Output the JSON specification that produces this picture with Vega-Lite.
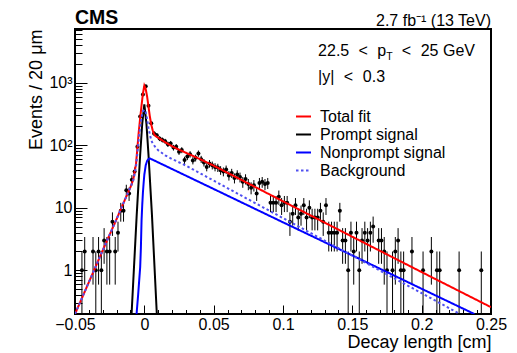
{
  "$schema": "https://vega.github.io/schema/vega-lite/v6.json",
  "width": 416,
  "height": 285,
  "autosize": {"type": "none"},
  "padding": {"left": 75, "top": 29, "right": 26, "bottom": 39},
  "config": {
    "font": "Liberation Sans",
    "view": {"stroke": "black", "strokeWidth": 2},
    "legend": {"labelFont": "Liberation Sans", "labelFontSize": 16, "labelColor": "black", "symbolType": "stroke", "symbolSize": 225, "symbolStrokeWidth": 2, "rowPadding": 1, "labelOffset": 8, "padding": 0}
  },
  "resolve": {"axis": {"x": "independent"}},
  "datasets": {
    "points": [
      {"x": -0.045, "n": 1, "lo": 0.01, "hi": 2},
      {"x": -0.043, "n": 2, "lo": 0.59, "hi": 3.41},
      {"x": -0.037, "n": 2, "lo": 0.59, "hi": 3.41},
      {"x": -0.035, "n": 1, "lo": 0.01, "hi": 2},
      {"x": -0.033, "n": 2, "lo": 0.59, "hi": 3.41},
      {"x": -0.031, "n": 1, "lo": 0.01, "hi": 2},
      {"x": -0.029, "n": 3, "lo": 1.27, "hi": 4.73},
      {"x": -0.027, "n": 2, "lo": 0.59, "hi": 3.41},
      {"x": -0.025, "n": 2, "lo": 0.59, "hi": 3.41},
      {"x": -0.023, "n": 6, "lo": 3.55, "hi": 8.45},
      {"x": -0.021, "n": 2, "lo": 0.59, "hi": 3.41},
      {"x": -0.019, "n": 4, "lo": 2, "hi": 6},
      {"x": -0.017, "n": 9, "lo": 6, "hi": 12},
      {"x": -0.015, "n": 9, "lo": 6, "hi": 12},
      {"x": -0.013, "n": 19, "lo": 14.64, "hi": 23.36},
      {"x": -0.011, "n": 17, "lo": 12.88, "hi": 21.12},
      {"x": -0.009, "n": 28, "lo": 22.71, "hi": 33.29},
      {"x": -0.007, "n": 38, "lo": 31.84, "hi": 44.16},
      {"x": -0.005, "n": 95, "lo": 85.25, "hi": 104.75},
      {"x": -0.003, "n": 290, "lo": 272.97, "hi": 307.03},
      {"x": -0.001, "n": 650, "lo": 624.5, "hi": 675.5},
      {"x": 0.001, "n": 880, "lo": 850.34, "hi": 909.66},
      {"x": 0.003, "n": 430, "lo": 409.26, "hi": 450.74},
      {"x": 0.005, "n": 225, "lo": 210, "hi": 240},
      {"x": 0.007, "n": 155, "lo": 142.55, "hi": 167.45},
      {"x": 0.009, "n": 145, "lo": 132.96, "hi": 157.04},
      {"x": 0.011, "n": 128, "lo": 116.69, "hi": 139.31},
      {"x": 0.013, "n": 122, "lo": 110.95, "hi": 133.05},
      {"x": 0.015, "n": 116, "lo": 105.23, "hi": 126.77},
      {"x": 0.017, "n": 104, "lo": 93.8, "hi": 114.2},
      {"x": 0.019, "n": 107, "lo": 96.66, "hi": 117.34},
      {"x": 0.021, "n": 92, "lo": 82.41, "hi": 101.59},
      {"x": 0.023, "n": 95, "lo": 85.25, "hi": 104.75},
      {"x": 0.025, "n": 79, "lo": 70.11, "hi": 87.89},
      {"x": 0.027, "n": 84, "lo": 74.83, "hi": 93.17},
      {"x": 0.029, "n": 58, "lo": 50.38, "hi": 65.62},
      {"x": 0.031, "n": 66, "lo": 57.88, "hi": 74.12},
      {"x": 0.033, "n": 72, "lo": 63.51, "hi": 80.49},
      {"x": 0.035, "n": 57, "lo": 49.45, "hi": 64.55},
      {"x": 0.037, "n": 63, "lo": 55.06, "hi": 70.94},
      {"x": 0.039, "n": 74, "lo": 65.4, "hi": 82.6},
      {"x": 0.041, "n": 60, "lo": 52.25, "hi": 67.75},
      {"x": 0.043, "n": 53, "lo": 45.72, "hi": 60.28},
      {"x": 0.045, "n": 45, "lo": 38.29, "hi": 51.71},
      {"x": 0.047, "n": 51, "lo": 43.86, "hi": 58.14},
      {"x": 0.049, "n": 48, "lo": 41.07, "hi": 54.93},
      {"x": 0.051, "n": 45, "lo": 38.29, "hi": 51.71},
      {"x": 0.053, "n": 44, "lo": 37.37, "hi": 50.63},
      {"x": 0.055, "n": 40, "lo": 33.68, "hi": 46.32},
      {"x": 0.057, "n": 38, "lo": 31.84, "hi": 44.16},
      {"x": 0.059, "n": 41, "lo": 34.6, "hi": 47.4},
      {"x": 0.061, "n": 33, "lo": 27.26, "hi": 38.74},
      {"x": 0.063, "n": 36, "lo": 30, "hi": 42},
      {"x": 0.065, "n": 30, "lo": 24.52, "hi": 35.48},
      {"x": 0.067, "n": 34, "lo": 28.17, "hi": 39.83},
      {"x": 0.069, "n": 31, "lo": 25.43, "hi": 36.57},
      {"x": 0.071, "n": 26, "lo": 20.9, "hi": 31.1},
      {"x": 0.073, "n": 29, "lo": 23.61, "hi": 34.39},
      {"x": 0.075, "n": 24, "lo": 19.1, "hi": 28.9},
      {"x": 0.077, "n": 21, "lo": 16.42, "hi": 25.58},
      {"x": 0.079, "n": 23, "lo": 18.2, "hi": 27.8},
      {"x": 0.081, "n": 17, "lo": 12.88, "hi": 21.12},
      {"x": 0.083, "n": 25, "lo": 20, "hi": 30},
      {"x": 0.085, "n": 26, "lo": 20.9, "hi": 31.1},
      {"x": 0.087, "n": 24, "lo": 19.1, "hi": 28.9},
      {"x": 0.089, "n": 25, "lo": 20, "hi": 30},
      {"x": 0.091, "n": 12, "lo": 8.54, "hi": 15.46},
      {"x": 0.093, "n": 12, "lo": 8.54, "hi": 15.46},
      {"x": 0.095, "n": 12, "lo": 8.54, "hi": 15.46},
      {"x": 0.097, "n": 15, "lo": 11.13, "hi": 18.87},
      {"x": 0.099, "n": 11, "lo": 7.68, "hi": 14.32},
      {"x": 0.101, "n": 12, "lo": 8.54, "hi": 15.46},
      {"x": 0.103, "n": 12, "lo": 8.54, "hi": 15.46},
      {"x": 0.105, "n": 6, "lo": 3.55, "hi": 8.45},
      {"x": 0.107, "n": 8, "lo": 5.17, "hi": 10.83},
      {"x": 0.109, "n": 11, "lo": 7.68, "hi": 14.32},
      {"x": 0.111, "n": 7, "lo": 4.35, "hi": 9.65},
      {"x": 0.113, "n": 8, "lo": 5.17, "hi": 10.83},
      {"x": 0.115, "n": 11, "lo": 7.68, "hi": 14.32},
      {"x": 0.117, "n": 7, "lo": 4.35, "hi": 9.65},
      {"x": 0.119, "n": 10, "lo": 6.84, "hi": 13.16},
      {"x": 0.121, "n": 7, "lo": 4.35, "hi": 9.65},
      {"x": 0.123, "n": 7, "lo": 4.35, "hi": 9.65},
      {"x": 0.125, "n": 7, "lo": 4.35, "hi": 9.65},
      {"x": 0.127, "n": 9, "lo": 6, "hi": 12},
      {"x": 0.129, "n": 6, "lo": 3.55, "hi": 8.45},
      {"x": 0.131, "n": 11, "lo": 7.68, "hi": 14.32},
      {"x": 0.133, "n": 4, "lo": 2, "hi": 6},
      {"x": 0.135, "n": 4, "lo": 2, "hi": 6},
      {"x": 0.137, "n": 4, "lo": 2, "hi": 6},
      {"x": 0.139, "n": 4, "lo": 2, "hi": 6},
      {"x": 0.141, "n": 9, "lo": 6, "hi": 12},
      {"x": 0.143, "n": 3, "lo": 1.27, "hi": 4.73},
      {"x": 0.145, "n": 3, "lo": 1.27, "hi": 4.73},
      {"x": 0.147, "n": 1, "lo": 0.01, "hi": 2},
      {"x": 0.149, "n": 4, "lo": 2, "hi": 6},
      {"x": 0.151, "n": 2, "lo": 0.59, "hi": 3.41},
      {"x": 0.153, "n": 4, "lo": 2, "hi": 6},
      {"x": 0.155, "n": 1, "lo": 0.01, "hi": 2},
      {"x": 0.157, "n": 3, "lo": 1.27, "hi": 4.73},
      {"x": 0.159, "n": 4, "lo": 2, "hi": 6},
      {"x": 0.161, "n": 3, "lo": 1.27, "hi": 4.73},
      {"x": 0.163, "n": 4, "lo": 2, "hi": 6},
      {"x": 0.165, "n": 5, "lo": 2.76, "hi": 7.24},
      {"x": 0.169, "n": 3, "lo": 1.27, "hi": 4.73},
      {"x": 0.171, "n": 3, "lo": 1.27, "hi": 4.73},
      {"x": 0.173, "n": 2, "lo": 0.59, "hi": 3.41},
      {"x": 0.175, "n": 1, "lo": 0.01, "hi": 2},
      {"x": 0.179, "n": 1, "lo": 0.01, "hi": 2},
      {"x": 0.181, "n": 2, "lo": 0.59, "hi": 3.41},
      {"x": 0.183, "n": 3, "lo": 1.27, "hi": 4.73},
      {"x": 0.185, "n": 1, "lo": 0.01, "hi": 2},
      {"x": 0.187, "n": 1, "lo": 0.01, "hi": 2},
      {"x": 0.193, "n": 2, "lo": 0.59, "hi": 3.41},
      {"x": 0.201, "n": 1, "lo": 0.01, "hi": 2},
      {"x": 0.207, "n": 2, "lo": 0.59, "hi": 3.41},
      {"x": 0.211, "n": 1, "lo": 0.01, "hi": 2},
      {"x": 0.213, "n": 1, "lo": 0.01, "hi": 2},
      {"x": 0.227, "n": 1, "lo": 0.01, "hi": 2},
      {"x": 0.243, "n": 1, "lo": 0.01, "hi": 2}
    ],
    "curves": [
      {"series": "Total fit", "x": -0.05, "y": 0.2},
      {"series": "Total fit", "x": -0.04, "y": 0.646},
      {"series": "Total fit", "x": -0.03, "y": 2.09},
      {"series": "Total fit", "x": -0.02, "y": 6.61},
      {"series": "Total fit", "x": -0.015, "y": 12.0},
      {"series": "Total fit", "x": -0.01, "y": 21.4},
      {"series": "Total fit", "x": -0.008, "y": 28.2},
      {"series": "Total fit", "x": -0.006, "y": 50.1},
      {"series": "Total fit", "x": -0.005, "y": 91.2},
      {"series": "Total fit", "x": -0.004, "y": 166},
      {"series": "Total fit", "x": -0.003, "y": 275},
      {"series": "Total fit", "x": -0.002, "y": 437},
      {"series": "Total fit", "x": -0.001, "y": 676},
      {"series": "Total fit", "x": 0, "y": 902},
      {"series": "Total fit", "x": 0.001, "y": 794},
      {"series": "Total fit", "x": 0.002, "y": 603},
      {"series": "Total fit", "x": 0.003, "y": 417},
      {"series": "Total fit", "x": 0.004, "y": 288},
      {"series": "Total fit", "x": 0.005, "y": 214},
      {"series": "Total fit", "x": 0.006, "y": 174},
      {"series": "Total fit", "x": 0.007, "y": 151},
      {"series": "Total fit", "x": 0.008, "y": 141},
      {"series": "Total fit", "x": 0.01, "y": 132},
      {"series": "Total fit", "x": 0.015, "y": 112},
      {"series": "Total fit", "x": 0.02, "y": 96.6},
      {"series": "Total fit", "x": 0.025, "y": 85.1},
      {"series": "Total fit", "x": 0.03, "y": 75.9},
      {"series": "Total fit", "x": 0.04, "y": 60.3},
      {"series": "Total fit", "x": 0.05, "y": 47.2},
      {"series": "Total fit", "x": 0.06, "y": 36.3},
      {"series": "Total fit", "x": 0.07, "y": 27.9},
      {"series": "Total fit", "x": 0.08, "y": 21.5},
      {"series": "Total fit", "x": 0.09, "y": 16.5},
      {"series": "Total fit", "x": 0.1, "y": 12.7},
      {"series": "Total fit", "x": 0.15, "y": 3.44},
      {"series": "Total fit", "x": 0.2, "y": 0.936},
      {"series": "Total fit", "x": 0.25, "y": 0.257},
      {"series": "Prompt signal", "x": -0.0092, "y": 0.2},
      {"series": "Prompt signal", "x": -0.0055, "y": 7.67},
      {"series": "Prompt signal", "x": -0.003, "y": 70.8},
      {"series": "Prompt signal", "x": -0.0015, "y": 224},
      {"series": "Prompt signal", "x": 0, "y": 453},
      {"series": "Prompt signal", "x": 0.0015, "y": 224},
      {"series": "Prompt signal", "x": 0.003, "y": 70.8},
      {"series": "Prompt signal", "x": 0.0055, "y": 7.67},
      {"series": "Prompt signal", "x": 0.009, "y": 0.2},
      {"series": "Nonprompt signal", "x": -0.0056, "y": 0.2},
      {"series": "Nonprompt signal", "x": -0.0045, "y": 0.398},
      {"series": "Nonprompt signal", "x": -0.0035, "y": 0.794},
      {"series": "Nonprompt signal", "x": -0.003, "y": 1.12},
      {"series": "Nonprompt signal", "x": -0.0025, "y": 2.24},
      {"series": "Nonprompt signal", "x": -0.002, "y": 6.31},
      {"series": "Nonprompt signal", "x": -0.0015, "y": 11.2},
      {"series": "Nonprompt signal", "x": -0.001, "y": 17.8},
      {"series": "Nonprompt signal", "x": -0.0005, "y": 25.1},
      {"series": "Nonprompt signal", "x": 0, "y": 33.9},
      {"series": "Nonprompt signal", "x": 0.001, "y": 47.9},
      {"series": "Nonprompt signal", "x": 0.002, "y": 56.2},
      {"series": "Nonprompt signal", "x": 0.003, "y": 60.3},
      {"series": "Nonprompt signal", "x": 0.004, "y": 61.7},
      {"series": "Nonprompt signal", "x": 0.005, "y": 60.2},
      {"series": "Nonprompt signal", "x": 0.05, "y": 20.0},
      {"series": "Nonprompt signal", "x": 0.1, "y": 5.86},
      {"series": "Nonprompt signal", "x": 0.15, "y": 1.73},
      {"series": "Nonprompt signal", "x": 0.2, "y": 0.506},
      {"series": "Nonprompt signal", "x": 0.238, "y": 0.2},
      {"series": "Background", "x": -0.05, "y": 0.2},
      {"series": "Background", "x": -0.04, "y": 0.646},
      {"series": "Background", "x": -0.03, "y": 2.09},
      {"series": "Background", "x": -0.02, "y": 6.61},
      {"series": "Background", "x": -0.015, "y": 12.0},
      {"series": "Background", "x": -0.01, "y": 21.4},
      {"series": "Background", "x": -0.008, "y": 27.5},
      {"series": "Background", "x": -0.006, "y": 45.7},
      {"series": "Background", "x": -0.005, "y": 75.9},
      {"series": "Background", "x": -0.004, "y": 126},
      {"series": "Background", "x": -0.003, "y": 200},
      {"series": "Background", "x": -0.002, "y": 282},
      {"series": "Background", "x": -0.001, "y": 347},
      {"series": "Background", "x": 0, "y": 372},
      {"series": "Background", "x": 0.001, "y": 339},
      {"series": "Background", "x": 0.002, "y": 263},
      {"series": "Background", "x": 0.003, "y": 191},
      {"series": "Background", "x": 0.004, "y": 148},
      {"series": "Background", "x": 0.005, "y": 120},
      {"series": "Background", "x": 0.006, "y": 107},
      {"series": "Background", "x": 0.008, "y": 93.3},
      {"series": "Background", "x": 0.01, "y": 83.2},
      {"series": "Background", "x": 0.015, "y": 69.2},
      {"series": "Background", "x": 0.02, "y": 60.3},
      {"series": "Background", "x": 0.03, "y": 47.3},
      {"series": "Background", "x": 0.05, "y": 27.2},
      {"series": "Background", "x": 0.1, "y": 6.84},
      {"series": "Background", "x": 0.15, "y": 1.72},
      {"series": "Background", "x": 0.2, "y": 0.431},
      {"series": "Background", "x": 0.2275, "y": 0.2}
    ]
  },
  "layer": [
    {
      "data": {"name": "points"},
      "mark": {"type": "rule", "clip": true, "color": "black", "strokeWidth": 1},
      "encoding": {
        "x": {
          "field": "x", "type": "quantitative",
          "scale": {"domain": [-0.05, 0.25], "nice": false, "zero": false},
          "axis": {
            "orient": "bottom",
            "title": "Decay length [cm]", "titleFontSize": 18, "titleFontWeight": "normal", "titleColor": "black",
            "titleX": 416, "titleY": 33.5, "titleAlign": "right", "titleBaseline": "alphabetic", "titleAnchor": "end",
            "domain": false, "grid": false,
            "values": [-0.05, 0, 0.05, 0.1, 0.15, 0.2, 0.25],
            "format": ".2~f",
            "tickSize": -9,
            "tickColor": "black", "tickWidth": 1,
            "labelFontSize": 16, "labelColor": "black", "labelPadding": 11, "labelFlush": false, "labelOverlap": false
          }
        },
        "y": {
          "field": "lo", "type": "quantitative",
          "scale": {"type": "log", "domain": [0.2, 7250], "nice": false},
          "axis": {
            "title": "Events / 20 μm", "titleFontSize": 18, "titleFontWeight": "normal", "titleColor": "black",
            "titleX": -34, "titleY": 0, "titleAlign": "right", "titleBaseline": "alphabetic", "titleAngle": -90, "titleAnchor": "end",
            "domain": false, "grid": false,
            "values": [0.2, 0.3, 0.4, 0.5, 0.6, 0.7, 0.8, 0.9, 1, 2, 3, 4, 5, 6, 7, 8, 9, 10, 20, 30, 40, 50, 60, 70, 80, 90, 100, 200, 300, 400, 500, 600, 700, 800, 900, 1000, 2000, 3000, 4000, 5000, 6000, 7000],
            "tickSize": {"condition": {"test": "datum.value == 1 || datum.value == 10 || datum.value == 100 || datum.value == 1000", "value": -12}, "value": -7},
            "tickColor": "black", "tickWidth": 1,
            "labelExpr": "datum.value == 1 ? '1' : datum.value == 10 ? '10' : datum.value == 100 ? '10²' : datum.value == 1000 ? '10³' : ''",
            "labelFontSize": 16, "labelColor": "black", "labelPadding": 15, "labelOverlap": false, "labelFlush": false
          }
        },
        "y2": {"field": "hi"}
      }
    },
    {
      "data": {"name": "points"},
      "mark": {"type": "point", "filled": true, "shape": "circle", "size": 16, "color": "black", "opacity": 1},
      "encoding": {
        "x": {
          "field": "x", "type": "quantitative",
          "axis": {
            "orient": "bottom", "title": null, "labels": false, "domain": false, "grid": false,
            "values": [-0.04, -0.03, -0.02, -0.01, 0.01, 0.02, 0.03, 0.04, 0.06, 0.07, 0.08, 0.09, 0.11, 0.12, 0.13, 0.14, 0.16, 0.17, 0.18, 0.19, 0.21, 0.22, 0.23, 0.24],
            "tickSize": -4.5, "tickColor": "black", "tickWidth": 1
          }
        },
        "y": {"field": "n", "type": "quantitative"}
      }
    },
    {
      "data": {"name": "curves"},
      "mark": {"type": "line", "clip": true, "strokeWidth": 2},
      "encoding": {
        "x": {"field": "x", "type": "quantitative", "axis": null},
        "y": {"field": "y", "type": "quantitative"},
        "color": {
          "field": "series", "type": "nominal",
          "scale": {"domain": ["Total fit", "Prompt signal", "Nonprompt signal", "Background"], "range": ["#ff0000", "#000000", "#0000ff", "#5050f0"]},
          "legend": {"orient": "none", "legendX": 220, "legendY": 79, "title": null}
        },
        "strokeDash": {
          "field": "series", "type": "nominal",
          "scale": {"domain": ["Total fit", "Prompt signal", "Nonprompt signal", "Background"], "range": [[1, 0], [1, 0], [1, 0], [2.5, 2.5]]},
          "legend": {"orient": "none", "legendX": 220, "legendY": 79, "title": null}
        }
      }
    },
    {
      "data": {"values": [{}]},
      "mark": {"type": "text", "align": "left", "baseline": "alphabetic", "fontSize": 19.5, "fontWeight": "bold", "color": "black"},
      "encoding": {"x": {"datum": -0.05, "axis": null}, "y": {"datum": 8730}, "text": {"value": "CMS"}}
    },
    {
      "data": {"values": [{}]},
      "mark": {"type": "text", "align": "right", "baseline": "alphabetic", "fontSize": 16, "color": "black"},
      "encoding": {"x": {"datum": 0.25, "axis": null}, "y": {"datum": 8110}, "text": {"value": "2.7 fb⁻¹ (13 TeV)"}}
    },
    {
      "data": {"values": [{}]},
      "mark": {"type": "text", "align": "left", "baseline": "alphabetic", "fontSize": 16, "color": "black"},
      "encoding": {"x": {"datum": 0.1253, "axis": null}, "y": {"datum": 2685}, "text": {"value": "22.5"}}
    },
    {
      "data": {"values": [{}]},
      "mark": {"type": "text", "align": "left", "baseline": "alphabetic", "fontSize": 16, "color": "black"},
      "encoding": {"x": {"datum": 0.1545, "axis": null}, "y": {"datum": 2685}, "text": {"value": "<"}}
    },
    {
      "data": {"values": [{}]},
      "mark": {"type": "text", "align": "left", "baseline": "alphabetic", "fontSize": 16, "color": "black"},
      "encoding": {"x": {"datum": 0.168, "axis": null}, "y": {"datum": 2685}, "text": {"value": "p"}}
    },
    {
      "data": {"values": [{}]},
      "mark": {"type": "text", "align": "left", "baseline": "alphabetic", "fontSize": 10.5, "color": "black"},
      "encoding": {"x": {"datum": 0.1744, "axis": null}, "y": {"datum": 2317}, "text": {"value": "T"}}
    },
    {
      "data": {"values": [{}]},
      "mark": {"type": "text", "align": "left", "baseline": "alphabetic", "fontSize": 16, "color": "black"},
      "encoding": {"x": {"datum": 0.1857, "axis": null}, "y": {"datum": 2685}, "text": {"value": "<"}}
    },
    {
      "data": {"values": [{}]},
      "mark": {"type": "text", "align": "left", "baseline": "alphabetic", "fontSize": 16, "color": "black"},
      "encoding": {"x": {"datum": 0.1993, "axis": null}, "y": {"datum": 2685}, "text": {"value": "25 GeV"}}
    },
    {
      "data": {"values": [{}]},
      "mark": {"type": "text", "align": "left", "baseline": "alphabetic", "fontSize": 16, "color": "black"},
      "encoding": {"x": {"datum": 0.1253, "axis": null}, "y": {"datum": 1042}, "text": {"value": "|y|"}}
    },
    {
      "data": {"values": [{}]},
      "mark": {"type": "text", "align": "left", "baseline": "alphabetic", "fontSize": 16, "color": "black"},
      "encoding": {"x": {"datum": 0.1439, "axis": null}, "y": {"datum": 1042}, "text": {"value": "<"}}
    },
    {
      "data": {"values": [{}]},
      "mark": {"type": "text", "align": "left", "baseline": "alphabetic", "fontSize": 16, "color": "black"},
      "encoding": {"x": {"datum": 0.1576, "axis": null}, "y": {"datum": 1042}, "text": {"value": "0.3"}}
    }
  ]
}
